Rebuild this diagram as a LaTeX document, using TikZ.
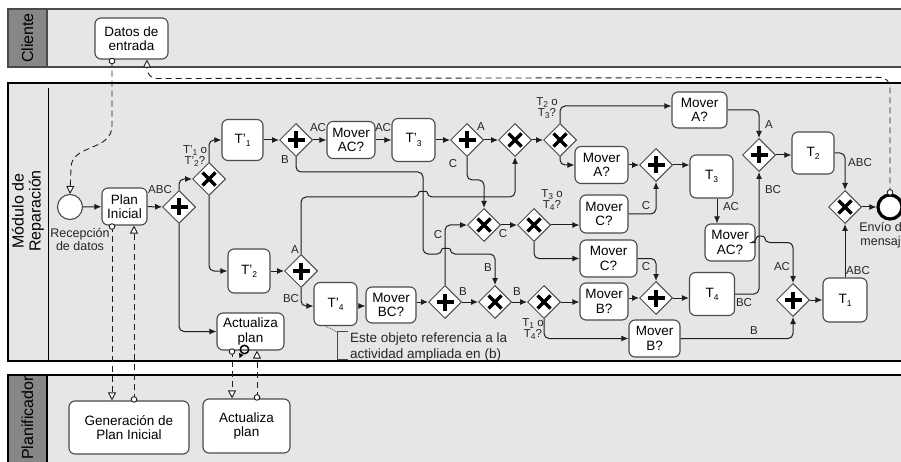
\documentclass[tikz,border=0pt]{standalone}
\usepackage{fontspec}
\setmainfont{Liberation Sans}
\usetikzlibrary{arrows.meta,shapes.geometric,calc}
\definecolor{poolbg}{HTML}{E6E6E6}
\definecolor{hdr}{HTML}{878787}
\definecolor{bord}{HTML}{4A4A4A}
\definecolor{flow}{HTML}{1E1E1E}
\newcommand{\lsub}[1]{\raisebox{-0.45ex}{\fontsize{8.5}{9}\selectfont #1}}
\begin{document}
\begin{tikzpicture}[x=1pt,y=-1pt,
 task/.style={draw=bord, line width=1.1pt, fill=white, rounded corners=6pt, align=center, inner sep=0pt, font=\fontsize{13.5}{14.5}\selectfont},
 gw/.style={diamond, draw=bord, line width=1pt, fill=white, minimum size=33pt, inner sep=0pt},
 plusgw/.style={gw, path picture={\draw[line width=3.3pt,black] ([xshift=-8.5pt]path picture bounding box.center) -- ([xshift=8.5pt]path picture bounding box.center) ([yshift=-8.5pt]path picture bounding box.center) -- ([yshift=8.5pt]path picture bounding box.center);}},
 xgw/.style={gw, path picture={\draw[line width=3.3pt,black] ([shift={(-6.5pt,-6.5pt)}]path picture bounding box.center) -- ([shift={(6.5pt,6.5pt)}]path picture bounding box.center) ([shift={(-6.5pt,6.5pt)}]path picture bounding box.center) -- ([shift={(6.5pt,-6.5pt)}]path picture bounding box.center);}},
 seq/.style={draw=flow, line width=1pt, rounded corners=5pt, -{Latex[length=7pt,width=6pt]}},
 msg/.style={draw=flow, line width=0.9pt, dash pattern=on 6pt off 4pt, -{Triangle[open,length=8pt,width=8pt,fill=white]}},
 mstart/.style={draw=flow, line width=0.9pt, fill=white},
 lbl/.style={font=\fontsize{11.5}{11}\selectfont, inner sep=0pt, text=black!85, align=center},
 evlbl/.style={font=\fontsize{12.5}{13.5}\selectfont, inner sep=0pt, text=black!85, align=center},
 poollbl/.style={rotate=90, font=\fontsize{16}{17}\selectfont, align=center, inner sep=0pt}
]
\useasboundingbox (0,0) rectangle (901,462);
\fill[white] (0,0) rectangle (901,462);
% pools
\draw[bord, line width=1.2pt, fill=poolbg] (8,9) rectangle (915,67);
\draw[bord, line width=1.2pt, fill=hdr] (8,9) rectangle (47,67);
\node[poollbl] (pc) at (27.5,38) {Cliente};
\draw[black, line width=1.2pt, fill=poolbg] (8,83) rectangle (915,361);
\draw[black, line width=1pt] (48,88) -- (48,361);
\node[poollbl] (pm) at (28,211) {Módulo de\\Reparación};
\draw[black, line width=1.2pt, fill=poolbg] (8,375) rectangle (915,470);
\draw[black, line width=1.2pt, fill=hdr] (8,375) rectangle (47,470);
\node[poollbl] (pp) at (27.5,418) {Planificador};

% Cliente
\node[task, minimum width=73pt, minimum height=41pt] (datos) at (131.5,38.5) {Datos de\\entrada};

% Modulo nodes
\node[circle, draw=bord, line width=1.1pt, fill=white, minimum size=25pt, inner sep=0pt] (start) at (70,207) {};
\node[evlbl] (startl) at (80,239.5) {Recepción\\de datos};
\node[task, minimum width=45pt, minimum height=37pt] (plan) at (124.5,206.5) {Plan\\Inicial};
\node[plusgw] (g1) at (179,207) {};
\node[xgw] (gx1) at (209,179) {};
\node[task, minimum width=41pt, minimum height=41pt] (t1p) at (242.5,140) {T'\lsub{1}};
\node[task, minimum width=42pt, minimum height=44pt] (t2p) at (249,271) {T'\lsub{2}};
\node[task, minimum width=67pt, minimum height=37pt] (act) at (250.5,331.5) {Actualiza\\plan};
\node[plusgw] (g2) at (296,140) {};
\node[task, minimum width=48pt, minimum height=37pt] (mac1) at (351,140) {Mover\\AC?};
\node[task, minimum width=43pt, minimum height=43pt] (t3p) at (413.5,140) {T'\lsub{3}};
\node[plusgw] (g3) at (467,140) {};
\node[xgw] (gx2) at (515,140) {};
\node[xgw] (gx3) at (560,140) {};
\node[task, minimum width=55pt, minimum height=36pt] (ma1) at (699.5,110) {Mover\\A?};
\node[task, minimum width=53pt, minimum height=37pt] (ma2) at (601.5,165) {Mover\\A?};
\node[plusgw] (g4) at (656,165) {};
\node[task, minimum width=43pt, minimum height=43pt] (t3) at (711.5,176.5) {T\lsub{3}};
\node[task, minimum width=50pt, minimum height=37pt] (mac2) at (730,242.5) {Mover\\AC?};
\node[plusgw] (g5) at (759,155) {};
\node[task, minimum width=42pt, minimum height=42pt] (t2) at (813,153) {T\lsub{2}};
\node[xgw] (gx6) at (845,207) {};
\node[circle, draw=black, line width=3.2pt, fill=white, minimum size=24pt, inner sep=0pt] (end) at (890,207) {};
\node[evlbl] (endl) at (884,235) {Envío de\\mensaje};
\node[xgw] (gx4) at (484,225) {};
\node[xgw] (gx5) at (534,225) {};
\node[task, minimum width=48pt, minimum height=38pt] (mc1) at (604,214) {Mover\\C?};
\node[task, minimum width=57pt, minimum height=37pt] (mc2) at (608.5,258.5) {Mover\\C?};
\node[plusgw] (g6) at (656,298) {};
\node[task, minimum width=45pt, minimum height=43pt] (t4) at (712,294) {T\lsub{4}};
\node[task, minimum width=48pt, minimum height=37pt] (mb1) at (604,301.5) {Mover\\B?};
\node[task, minimum width=51pt, minimum height=37pt] (mb2) at (654.5,338.5) {Mover\\B?};
\node[plusgw] (g7) at (793,300) {};
\node[task, minimum width=44pt, minimum height=44pt] (t1) at (845,300) {T\lsub{1}};
\node[plusgw] (g8) at (301,271) {};
\node[task, minimum width=43pt, minimum height=43pt] (t4p) at (335.5,304) {T'\lsub{4}};
\node[task, minimum width=50pt, minimum height=36pt] (mbc) at (391,305) {Mover\\BC?};
\node[plusgw] (g9) at (445,302) {};
\node[xgw] (gx7) at (495,302) {};
\node[xgw] (gx8) at (544,302) {};

% Planificador
\node[task, minimum width=120pt, minimum height=53pt] (gen) at (129,427.5) {Generación de\\Plan Inicial};
\node[task, minimum width=87pt, minimum height=54pt] (act2) at (246.5,426) {Actualiza\\plan};

% loop marker
\draw[black, line width=1.5pt] (244.5,349.5) circle (4.2);
\fill[black] (239,353) -- (243.5,355) -- (239.5,358) -- cycle;

% sequence flows
\draw[seq] (start) -- (plan);
\draw[seq] (plan) -- (g1);
\node[lbl] at (160,190) {ABC};
\draw[seq] (g1.north) |- (gx1.west);
\draw[seq] (gx1.north) |- (t1p.west);
\draw[seq] (gx1.south) |- (t2p.west);
\draw[seq] (g1.south) |- (act.west);
\node[lbl] at (195,156) {T'\lsub{1} o\\T'\lsub{2}?};
\draw[seq] (t1p) -- (g2);
\draw[seq] (g2) -- (mac1);
\node[lbl] at (318,128) {AC};
\draw[seq] (mac1) -- (t3p);
\node[lbl] at (383,128) {AC};
\draw[seq] (t3p) -- (g3);
\draw[seq] (g3) -- (gx2);
\node[lbl] at (481,127) {A};
\draw[seq] (gx2) -- (gx3);
\draw[seq] (gx3.north) |- ([yshift=4pt]ma1.west);
\node[lbl] at (547,108) {T\lsub{2} o\\T\lsub{3}?};
\draw[seq] (gx3.south) |- (ma2.west);
\draw[seq] (ma1.east) -| (g5.north);
\node[lbl] at (769,125) {A};
\draw[seq] (g5.east) -- (g5.east -| t2.west);
\draw[seq] (t2.east) -| (gx6.north);
\node[lbl] at (860,163) {ABC};
\draw[seq] (gx6) -- (end);
\draw[seq] (ma2) -- (g4);
\draw[seq] (mc1.east) -| (g4.south);
\node[lbl] at (646,206) {C};
\draw[seq] (g4.east) -- (g4.east -| t3.west);
\draw[seq] ($(t3.south)+(5.5,0)$) -- ($(mac2.north)+(-13,0)$);
\node[lbl] at (731,207) {AC};
\draw[seq] (mac2.east) -- ++(1,0) .. controls +(0,-7) and +(0,-7) .. ++(8,0) -| (g7.north);
\node[lbl] at (782,267) {AC};
\draw[seq] (t4.east) -| (g5.south);
\node[lbl] at (744,303) {BC};
\node[lbl] at (773,190) {BC};
\draw[seq] (g6.west -| mb1.east) -- (g6.west);
\draw[seq] (mc2.east) -| (g6.north);
\node[lbl] at (646,267) {C};
\draw[seq] (g6.east) -- (g6.east -| t4.west);
\draw[seq] (mb2.east) -| (g7.south);
\node[lbl] at (754,331) {B};
\draw[seq] (g7) -- (t1);
\draw[seq] (t1.north) -- (gx6.south);
\node[lbl] at (858,271) {ABC};
% long B path
\draw[seq] (g2.south) -- (296,172) -- (423,172) -- (423,254) -- (442,254) .. controls (442,248) and (450,248) .. (450,254) -- (495,254) -- (gx7.north);
\node[lbl] at (285,160) {B};
\node[lbl] at (488,268) {B};
% A path from g8
\draw[seq] (g8.north) -- (301,197) -- (419,197) .. controls (419,191) and (427,191) .. (427,197) -- (515,197) -- (gx2.south);
\node[lbl] at (295,250) {A};
\draw[seq] (t2p.east) -- (t2p.east -| g8.west);
\draw[seq] (g8.south) |- ([yshift=-2pt]t4p.west);
\node[lbl] at (291,299) {BC};
\draw[seq] ([yshift=-2pt]t4p.east) -- ([yshift=-2pt]t4p.east -| mbc.west);
\draw[seq] (g9.west -| mbc.east) -- (g9.west);
\draw[seq] (g9) -- (gx7);
\node[lbl] at (463,292) {B};
\draw[seq] (gx7) -- (gx8);
\node[lbl] at (517,292) {B};
\draw[seq] (gx8.east) -- (gx8.east -| mb1.west);
\draw[seq] (gx8.south) |- (mb2.west);
\node[lbl] at (533,329) {T\lsub{1} o\\T\lsub{4}?};
\draw[seq] (g9.north) |- (gx4.west);
\node[lbl] at (438,235) {C};
\draw[seq] (g3.south) |- ($(gx4.north)+(0,-28)$) -- (gx4.north);
\node[lbl] at (453,164) {C};
\draw[seq] (gx4) -- (gx5);
\node[lbl] at (503,234) {C};
\draw[seq] (gx5.east) -- (gx5.east -| mc1.west);
\draw[seq] (gx5.south) |- (mc2.west);
\node[lbl] at (552,200) {T\lsub{3} o\\T\lsub{4}?};

% message flows
\coordinate (m1a) at ($(plan.south)+(-12.5,0)$);
\coordinate (m1b) at ($(gen.north)+(-17,0)$);
\coordinate (m2a) at ($(gen.north)+(5,0)$);
\coordinate (m2b) at ($(plan.south)+(9.5,0)$);
\coordinate (m3a) at ($(act.south)+(-18.5,0)$);
\coordinate (m3b) at ($(act2.north)+(-14.5,0)$);
\coordinate (m4a) at ($(act2.north)+(10.5,0)$);
\coordinate (m4b) at ($(act.south)+(6.5,0)$);
\draw[msg] ($(datos.south)+(-19.5,1)$) -- ($(datos.south)+(-19.5,66)$) .. controls ($(datos.south)+(-19.5,92)$) and ($(start.north)+(1,-50)$) .. ($(start.north)+(1,-26)$) -- (start.north);
\draw[mstart] ($(datos.south)+(-19.5,1.5)$) circle (2.8);
\draw[msg, rounded corners=10pt] (end.north) -- ($(end.north)+(0,-116)$) -- ($(datos.south)+(15.5,19)$) -- ($(datos.south)+(15.5,0)$);
\draw[mstart] ($(end.north)+(0,-1)$) circle (2.8);
\draw[msg] (m1a) -- (m1b);
\draw[mstart] ($(m1a)+(0,1)$) circle (2.8);
\draw[msg] (m2a) -- (m2b);
\draw[mstart] ($(m2a)+(0,-1)$) circle (2.8);
\draw[msg] (m3a) -- (m3b);
\draw[mstart] ($(m3a)+(0,1)$) circle (2.8);
\draw[msg] (m4a) -- (m4b);
\draw[mstart] ($(m4a)+(0,-1)$) circle (2.8);

% annotation
\draw[bord, densely dotted, line width=0.8pt] ($(t4p.south west)+(12,0)$) -- (337,332);
\draw[bord, line width=0.9pt] (348,331) -- (337,331) -- (337,359) -- (348,359);
\node[anchor=west, align=left, inner sep=0pt, font=\fontsize{13.5}{16}\selectfont, text=black!85] (ann) at (350,347.5) {Este objeto referencia a la\\actividad ampliada en (b)};
\end{tikzpicture}
\end{document}
